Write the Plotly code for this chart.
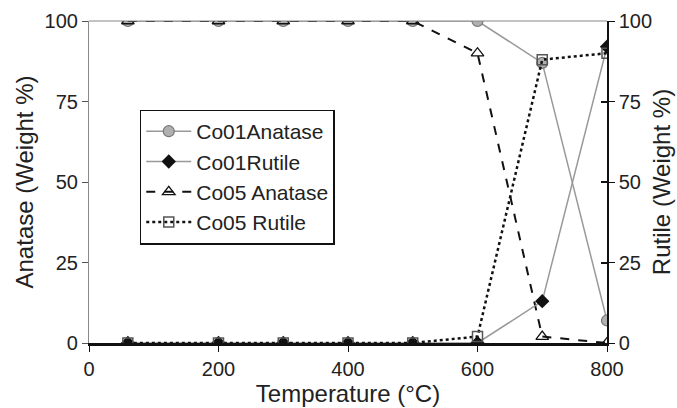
import plotly.graph_objects as go

temps = [60, 200, 300, 400, 500, 600, 700, 800]
co01_anatase = [100, 100, 100, 100, 100, 100, 87, 7]
co01_rutile = [0, 0, 0, 0, 0, 0, 13, 92]
co05_anatase = [100, 100, 100, 100, 100, 90, 2, 0]
co05_rutile = [0, 0, 0, 0, 0, 2, 88, 90]

FONT = dict(family="Liberation Sans, Arial, sans-serif", size=20, color="#222")

fig = go.Figure()
fig.add_trace(go.Scatter(
    x=temps, y=co01_anatase, name="Co01Anatase", mode="lines+markers",
    line=dict(color="#999999", width=1.5),
    marker=dict(symbol="circle", size=11, color="#b0b0b0", line=dict(color="#777", width=1.2)),
    legendrank=1,
))
fig.add_trace(go.Scatter(
    x=temps, y=co05_anatase, name="Co05 Anatase", mode="lines+markers",
    line=dict(color="#111", width=2, dash="dash"),
    marker=dict(symbol="triangle-up-open", size=11, color="#111", line=dict(width=1.3)),
    legendrank=3,
))
fig.add_trace(go.Scatter(
    x=temps, y=co01_rutile, name="Co01Rutile", mode="lines+markers", yaxis="y2",
    line=dict(color="#999999", width=1.5),
    marker=dict(symbol="diamond", size=11, color="#111"),
    legendrank=2,
))
fig.add_trace(go.Scatter(
    x=temps, y=co05_rutile, name="Co05 Rutile", mode="lines+markers", yaxis="y2",
    line=dict(color="#111", width=2.5, dash="dot"),
    marker=dict(symbol="square-open", size=10, color="#555", line=dict(width=1.5)),
    legendrank=4,
))
fig.add_trace(go.Scatter(x=[None], y=[None], yaxis="y3", showlegend=False, hoverinfo="skip"))

fig.update_layout(
    width=677, height=408,
    margin=dict(l=89, r=70, t=21, b=65),
    paper_bgcolor="white", plot_bgcolor="white",
    font=FONT,
    showlegend=True,
    legend=dict(
        x=0.098, y=0.725, xanchor="left", yanchor="top",
        bgcolor="white", bordercolor="#111", borderwidth=1.5,
        font=dict(family=FONT["family"], size=21, color="#222"),
        itemwidth=45,
        traceorder="normal",
    ),
    xaxis=dict(
        range=[0, 800], tickvals=[0, 200, 400, 600, 800],
        showgrid=False, zeroline=False, automargin=False,
        showline=True, linecolor="#111", linewidth=2.5,
        ticks="outside", ticklen=6, tickcolor="#111",
        title=dict(text="Temperature (°C)", standoff=6),
    ),
    yaxis=dict(
        range=[0, 100], tickvals=[0, 25, 50, 75, 100],
        showgrid=False, zeroline=False, automargin=False,
        showline=True, linecolor="#888", linewidth=1.2,
        ticks="outside", ticklen=6, tickcolor="#555",
        title=dict(text="Anatase (Weight %)", standoff=4),
    ),
    yaxis2=dict(
        range=[0, 100], tickvals=[0, 25, 50, 75, 100],
        overlaying="y", side="right", automargin=False,
        showgrid=False, zeroline=False,
        showline=True, linecolor="#111", linewidth=1.5,
        ticks="outside", ticklen=6, tickcolor="#111",
        title=dict(text="Rutile (Weight %)", standoff=2),
    ),
    yaxis3=dict(
        range=[0, 100], tickvals=[0, 25, 50, 75, 100],
        overlaying="y", side="right", anchor="x", automargin=False,
        showgrid=False, zeroline=False, showticklabels=False,
        ticks="inside", ticklen=6, tickcolor="#111", tickwidth=1.5,
    ),
    shapes=[dict(type="line", xref="paper", yref="paper", x0=0, x1=1, y0=1, y1=1,
                 line=dict(color="#888", width=1.2))],
)

fig.write_html(
    "out.html",
    config={"displayModeBar": False},
    post_script="document.body.style.margin='0';document.body.style.overflow='hidden';",
)
